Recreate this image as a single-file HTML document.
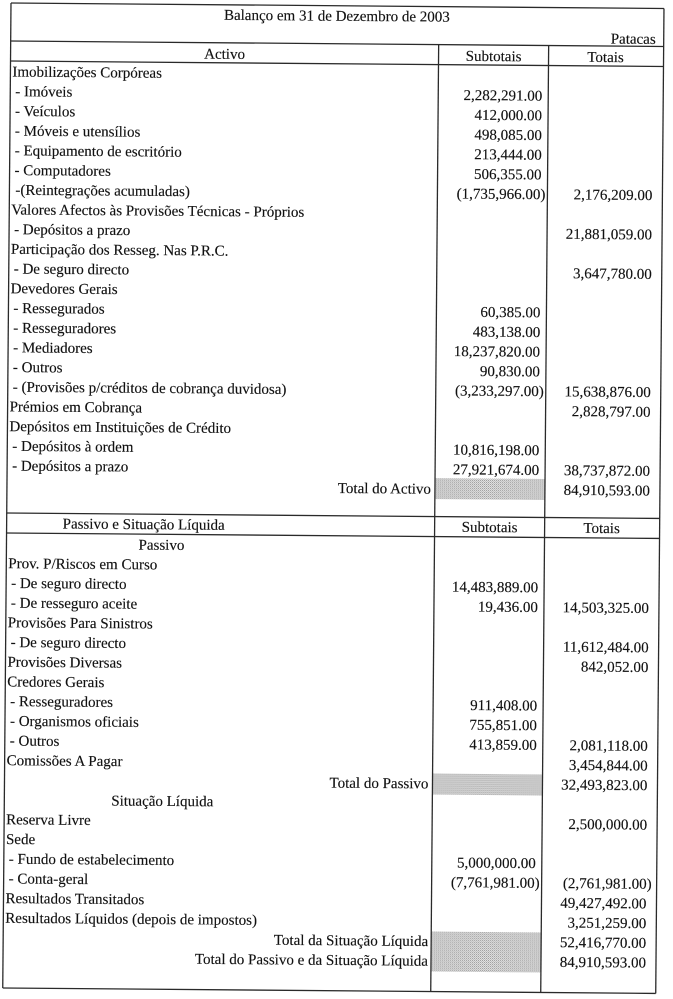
<!DOCTYPE html>
<html>
<head>
<meta charset="utf-8">
<style>
  html, body { margin:0; padding:0; background:#ffffff; }
  body { width:673px; height:999px; overflow:hidden; }
  svg { display:block; }
  text { font-family:"Liberation Serif", "Times New Roman", serif; font-size:15px; fill:#111; stroke:#111; stroke-width:0.15; }
  .n { text-anchor:end; }
  .c { text-anchor:middle; }
</style>
</head>
<body>
<svg width="673" height="999" viewBox="0 0 673 999" xmlns="http://www.w3.org/2000/svg">
  <defs>
    <pattern id="dots" width="2" height="2" patternUnits="userSpaceOnUse">
      <rect width="2" height="2" fill="#e2e2e2"/>
      <rect width="1" height="1" fill="#9c9c9c"/>
      <rect x="1" y="1" width="1" height="1" fill="#bdbdbd"/>
    </pattern>
  </defs>
  <rect width="673" height="999" fill="#ffffff"/>
  <g transform="rotate(0.48 11 3)">
    <!-- shaded cells -->
    <rect x="439" y="474.5" width="110" height="21" fill="url(#dots)"/>
    <rect x="439" y="770" width="110" height="21" fill="url(#dots)"/>
    <rect x="439" y="928" width="110" height="40" fill="url(#dots)"/>

    <!-- lines -->
    <g stroke="#2a2a2a" stroke-width="1.3" fill="none">
      <line x1="11" y1="3" x2="664" y2="3"/>
      <line x1="11" y1="41" x2="664" y2="41"/>
      <line x1="11" y1="61" x2="664" y2="61"/>
      <line x1="11" y1="513" x2="664" y2="513"/>
      <line x1="11" y1="533" x2="664" y2="533"/>
      <line x1="11" y1="988" x2="664" y2="988"/>
      <line x1="11" y1="3" x2="11" y2="988"/>
      <line x1="664" y1="3" x2="664" y2="988"/>
      <line x1="439" y1="41" x2="439" y2="988"/>
      <line x1="549" y1="41" x2="549" y2="988"/>
    </g>

    <!-- header -->
    <text class="c" x="337" y="18">Balanço em 31 de Dezembro de 2003</text>
    <text class="n" x="656" y="38.5">Patacas</text>
    <text class="c" x="225" y="57">Activo</text>
    <text class="c" x="494" y="57">Subtotais</text>
    <text class="c" x="606" y="57">Totais</text>

    <!-- Activo labels -->
    <text x="13" y="76.5">Imobilizações Corpóreas</text>
    <text x="16" y="96.2"> - Imóveis</text>
    <text x="16" y="115.9"> - Veículos</text>
    <text x="16" y="135.6"> - Móveis e utensílios</text>
    <text x="16" y="155.3"> - Equipamento de escritório</text>
    <text x="16" y="175.0"> - Computadores</text>
    <text x="17" y="194.7">-(Reintegrações acumuladas)</text>
    <text x="13" y="214.4">Valores Afectos às Provisões Técnicas - Próprios</text>
    <text x="16" y="234.1"> - Depósitos a prazo</text>
    <text x="13" y="253.8">Participação dos Resseg. Nas P.R.C.</text>
    <text x="16" y="273.5"> - De seguro directo</text>
    <text x="13" y="293.2">Devedores Gerais</text>
    <text x="16" y="312.9"> - Ressegurados</text>
    <text x="16" y="332.6"> - Resseguradores</text>
    <text x="16" y="352.3"> - Mediadores</text>
    <text x="16" y="372.0"> - Outros</text>
    <text x="16" y="391.7"> - (Provisões p/créditos de cobrança duvidosa)</text>
    <text x="13" y="411.4">Prémios em Cobrança</text>
    <text x="13" y="431.1">Depósitos em Instituições de Crédito</text>
    <text x="16" y="450.8"> - Depósitos à ordem</text>
    <text x="16" y="470.5"> - Depósitos a prazo</text>
    <text class="n" x="435" y="490.2">Total do Activo</text>

    <!-- Activo subtotals -->
    <text class="n" x="543" y="96.2">2,282,291.00</text>
    <text class="n" x="543" y="115.9">412,000.00</text>
    <text class="n" x="543" y="135.6">498,085.00</text>
    <text class="n" x="543" y="155.3">213,444.00</text>
    <text class="n" x="543" y="175.0">506,355.00</text>
    <text class="n" x="547" y="194.7">(1,735,966.00)</text>
    <text class="n" x="543" y="312.9">60,385.00</text>
    <text class="n" x="543" y="332.6">483,138.00</text>
    <text class="n" x="543" y="352.3">18,237,820.00</text>
    <text class="n" x="543" y="372.0">90,830.00</text>
    <text class="n" x="547" y="391.7">(3,233,297.00)</text>
    <text class="n" x="543" y="450.8">10,816,198.00</text>
    <text class="n" x="543" y="470.5">27,921,674.00</text>

    <!-- Activo totals -->
    <text class="n" x="654" y="194.7">2,176,209.00</text>
    <text class="n" x="654" y="234.1">21,881,059.00</text>
    <text class="n" x="654" y="273.5">3,647,780.00</text>
    <text class="n" x="654" y="391.7">15,638,876.00</text>
    <text class="n" x="654" y="411.4">2,828,797.00</text>
    <text class="n" x="654" y="470.5">38,737,872.00</text>
    <text class="n" x="654" y="490.2">84,910,593.00</text>

    <!-- Passivo header -->
    <text x="67" y="528">Passivo e Situação Líquida</text>
    <text class="c" x="494" y="528">Subtotais</text>
    <text class="c" x="606" y="528">Totais</text>

    <!-- Passivo labels -->
    <text class="c" x="166" y="548.5">Passivo</text>
    <text x="13" y="568.2">Prov. P/Riscos em Curso</text>
    <text x="16" y="587.9"> - De seguro directo</text>
    <text x="16" y="607.6"> - De resseguro aceite</text>
    <text x="13" y="627.3">Provisões Para Sinistros</text>
    <text x="16" y="647.0"> - De seguro directo</text>
    <text x="13" y="666.7">Provisões Diversas</text>
    <text x="13" y="686.4">Credores Gerais</text>
    <text x="16" y="706.1"> - Resseguradores</text>
    <text x="16" y="725.8"> - Organismos oficiais</text>
    <text x="16" y="745.5"> - Outros</text>
    <text x="13" y="765.2">Comissões A Pagar</text>
    <text class="n" x="435" y="784.9">Total do Passivo</text>
    <text class="c" x="169" y="804.6">Situação Líquida</text>
    <text x="13" y="824.3">Reserva Livre</text>
    <text x="13" y="844.0">Sede</text>
    <text x="16" y="863.7"> - Fundo de estabelecimento</text>
    <text x="16" y="883.4"> - Conta-geral</text>
    <text x="13" y="903.1">Resultados Transitados</text>
    <text x="13" y="922.8">Resultados Líquidos (depois de impostos)</text>
    <text class="n" x="436" y="942.5">Total da Situação Líquida</text>
    <text class="n" x="436" y="962.2">Total do Passivo e da Situação Líquida</text>

    <!-- Passivo subtotals -->
    <text class="n" x="543" y="587.9">14,483,889.00</text>
    <text class="n" x="543" y="607.6">19,436.00</text>
    <text class="n" x="543" y="706.1">911,408.00</text>
    <text class="n" x="543" y="725.8">755,851.00</text>
    <text class="n" x="543" y="745.5">413,859.00</text>
    <text class="n" x="543" y="863.7">5,000,000.00</text>
    <text class="n" x="547" y="883.4">(7,761,981.00)</text>

    <!-- Passivo totals -->
    <text class="n" x="654" y="607.6">14,503,325.00</text>
    <text class="n" x="654" y="647.0">11,612,484.00</text>
    <text class="n" x="654" y="666.7">842,052.00</text>
    <text class="n" x="654" y="745.5">2,081,118.00</text>
    <text class="n" x="654" y="765.2">3,454,844.00</text>
    <text class="n" x="654" y="784.9">32,493,823.00</text>
    <text class="n" x="654" y="824.3">2,500,000.00</text>
    <text class="n" x="659" y="883.4">(2,761,981.00)</text>
    <text class="n" x="654" y="903.1">49,427,492.00</text>
    <text class="n" x="654" y="922.8">3,251,259.00</text>
    <text class="n" x="654" y="942.5">52,416,770.00</text>
    <text class="n" x="654" y="962.2">84,910,593.00</text>
  </g>
</svg>
</body>
</html>
